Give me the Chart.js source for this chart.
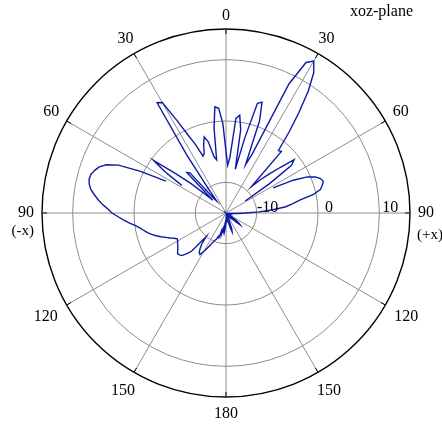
<!DOCTYPE html>
<html>
<head>
<meta charset="utf-8">
<title>xoz-plane pattern</title>
<script src="https://cdn.jsdelivr.net/npm/chart.js@4.4.1/dist/chart.umd.min.js"></script>
<style>
  body { margin: 0; background: #fff; }
</style>
</head>
<body>
<canvas id="pattern" width="442" height="425"></canvas>
<script>
// gain in dB, one value every 2 degrees, clockwise from the +z direction (top)
// null = below the plot floor (curve is broken there)
const gain0to88 = [
  -5.0, -7.2, -5.9, 0.5, 1.1, -1.2, -7.7, -2.5, 3.6, 4.0,
  1.0, -6.5, -4.5, 8.4, 12.8, 13.6, 12.0, 9.0, 5.2, 1.6,
  -1.7, -1.5, -9.0, -7.2, -5.4, -3.4, -0.9, -1.8, -6.5, -11.3,
  null, -6.3, -2.8, -0.5, 0.7, 1.4, 1.7, 1.3, 0.9, -0.4,
  -2.7, -4.0, -5.2, -7.3, -9.6
];
const gain90to178 = [
  -11.8, -13.0, -13.8, -14.3, -14.5, -14.6, -14.5, -14.3, -14.6, -14.5,
  -14.6, -14.4, -14.6, -14.5, -14.3, -14.6, -14.2, -13.6, -13.0, -12.4,
  -12.0, -12.8, -13.8, -14.4, -14.6, -14.5, -14.6, -14.4, -14.5, -14.6,
  -14.3, -14.5, -14.6, -14.2, -13.6, -12.2, -11.8, -12.6, -13.6, -14.2,
  -14.0, -14.4, -14.5, -13.9, -14.0
];
const gain180to268 = [
  -13.4, -12.8, -12.2, -13.0, -12.0, -12.4, -11.4, -12.0, -10.8, -11.0,
  -10.5, -10.2, -9.8, -9.2, -8.5, -7.8, -7.0, -7.2, -7.8, -8.6,
  -10.0, -6.6, -5.8, -5.0, -4.8, -4.7, -5.0, -5.3, -5.5, -5.7,
  -5.9, -6.0, -5.6, -5.0, -4.4, -3.7, -3.0, -2.4, -1.8, -1.3,
  -0.8, -0.1, 0.8, 1.7, 2.6
];
const gain270to358 = [
  3.6, 4.3, 5.2, 6.0, 6.7, 7.4, 7.8, 8.0, 7.9, 7.5,
  7.0, 6.0, 4.2, 0.5, -3.9, null, -6.5, -3.0, -0.4, -4.5,
  -7.5, -10.5, -12.0, -5.8, -6.2, -11.8, -12.5, -10.0, -3.5, 6.2,
  5.8, 2.2, -0.8, -2.8, -5.0, -4.6, -3.2, -2.1, -3.0, -5.6,
  -6.2, -1.0, 2.4, 2.1, -0.4
];

const angleStep = 2;
const angleLabels = ['0', '30', '60', '90', '120', '150', '180', '150', '120', '90', '60', '30'];
const sideLabels = { 3: '(+x)', 9: '(-x)' };
const ringValues = [-15, -10, 0, 10, 15];
const ringLabels = [-10, 0, 10];
const planeName = 'xoz-plane';

const gain = [...gain0to88, ...gain90to178, ...gain180to268, ...gain270to358];
const angles = gain.map((v, i) => i * angleStep);

const FONT = '16px "Liberation Serif", "Times New Roman", serif';
const SIDE_FONT = '15px "Liberation Serif", "Times New Roman", serif';
const GRID = '#8c8c8c';

const polarText = {
  id: 'polarText',
  afterDraw(chart) {
    const r = chart.scales.r;
    const ctx = chart.ctx;
    const every = 30 / angleStep;
    ctx.save();

    // short black ticks on the inside of the outer ring
    ctx.strokeStyle = '#000';
    ctx.lineWidth = 1;
    angleLabels.forEach((txt, k) => {
      const a = r.getPointPosition(k * every, r.drawingArea);
      const b = r.getPointPosition(k * every, r.drawingArea - 5);
      ctx.beginPath();
      ctx.moveTo(a.x, a.y);
      ctx.lineTo(b.x, b.y);
      ctx.stroke();
    });

    ctx.fillStyle = '#000';
    ctx.textAlign = 'center';
    ctx.textBaseline = 'middle';
    angleLabels.forEach((txt, k) => {
      ctx.font = FONT;
      const theta = k * 30;
      const rad = theta * Math.PI / 180;
      const w = ctx.measureText(txt).width;
      const gap = (theta > 90 && theta < 270) ? 11 : 8;
      const ext = Math.abs(Math.sin(rad)) * w / 2 + Math.abs(Math.cos(rad)) * 5.5;
      const p = r.getPointPosition(k * every, r.drawingArea + gap + ext);
      ctx.fillText(txt, p.x, p.y);
      if (sideLabels[k]) {
        ctx.font = SIDE_FONT;
        if (theta === 90) {
          ctx.textAlign = 'left';
          ctx.fillText(sideLabels[k], p.x - w / 2 - 1, p.y + 22);
        } else {
          ctx.textAlign = 'right';
          ctx.fillText(sideLabels[k], p.x + w / 2, p.y + 18);
        }
        ctx.textAlign = 'center';
      }
    });

    // ring values along the +x axis
    ctx.font = FONT;
    ctx.textBaseline = 'alphabetic';
    ringLabels.forEach(v => {
      const d = r.getDistanceFromCenterForValue(v);
      ctx.fillText(String(v), r.xCenter + d + 11, r.yCenter - 1);
    });

    ctx.textAlign = 'right';
    ctx.fillText(planeName, 413, 16);
    ctx.restore();
  }
};

new Chart(document.getElementById('pattern'), {
  type: 'radar',
  data: {
    labels: angles,
    datasets: [{
      data: gain,
      borderColor: '#0d1aa6',
      borderWidth: 1.4,
      fill: false,
      tension: 0,
      spanGaps: false,
      pointRadius: 0,
      pointHoverRadius: 0
    }]
  },
  options: {
    responsive: false,
    animation: false,
    layout: {
      padding: { left: 42, top: 29, right: 32, bottom: 28 }
    },
    plugins: {
      legend: { display: false },
      tooltip: { enabled: false }
    },
    scales: {
      r: {
        min: -15,
        max: 15,
        afterBuildTicks: scale => {
          scale.ticks = ringValues.map(v => ({ value: v }));
        },
        ticks: { display: false },
        pointLabels: { display: false },
        grid: {
          circular: true,
          color: ctx => ctx.tick.value === 15 ? '#000' : (ctx.tick.value === -15 ? 'transparent' : GRID),
          lineWidth: ctx => ctx.tick.value === 15 ? 1.4 : 1
        },
        angleLines: {
          color: GRID,
          lineWidth: ctx => ctx.index % (30 / angleStep) === 0 ? 1 : 0
        }
      }
    }
  },
  plugins: [polarText]
});
</script>
</body>
</html>
